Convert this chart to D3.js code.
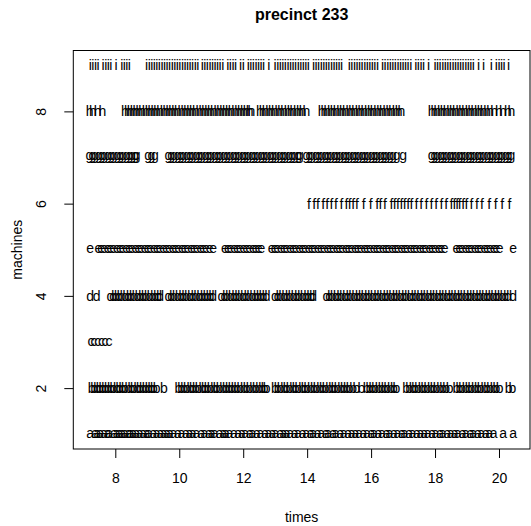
<!DOCTYPE html>
<html><head><meta charset="utf-8">
<script src="https://cdn.jsdelivr.net/npm/d3@7"></script>
<style>body{margin:0;background:#fff}svg{display:block}text{font-family:"Liberation Sans",Arial,Helvetica,sans-serif}</style>
</head><body><svg id="c" width="531" height="526"></svg>
<script>
const title = "precinct 233";
const xLabel = "times";
const yLabel = "machines";
const xTicks = [8, 10, 12, 14, 16, 18, 20];
const yTicks = [2, 4, 6, 8];
const machineLetters = ["a","b","c","d","e","f","g","h","i"];
const timesA = [7.21,7.37,7.44,7.53,7.64,7.75,7.81,7.96,8.04,8.13,8.21,8.3,8.41,8.47,8.56,8.66,8.76,8.87,8.98,9.05,9.19,9.29,9.41,9.51,9.61,9.71,9.82,9.96,10.07,10.21,10.32,10.42,10.54,10.69,10.79,10.93,11.01,11.11,11.26,11.37,11.46,11.57,11.71,11.84,11.96,12.06,12.21,12.29,12.43,12.54,12.69,12.79,12.91,13.01,13.16,13.26,13.36,13.47,13.61,13.71,13.86,13.97,14.11,14.19,14.33,14.44,14.59,14.66,14.81,14.89,15.04,15.14,15.28,15.39,15.51,15.62,15.76,15.87,16.01,16.09,16.23,16.34,16.49,16.57,16.71,16.82,16.96,17.04,17.19,17.29,17.43,17.54,17.66,17.77,17.91,18.01,18.16,18.24,18.39,18.49,18.61,18.71,18.86,18.96,19.11,19.19,19.34,19.44,19.59,19.69,19.83,20.13,20.44];
const timesB = [7.26,7.34,7.43,7.51,7.6,7.68,7.77,7.86,7.94,8.05,8.13,8.22,8.3,8.41,8.5,8.58,8.69,8.77,8.86,8.95,9.04,9.13,9.21,9.29,9.52,9.97,10.06,10.15,10.24,10.35,10.43,10.52,10.61,10.72,10.8,10.89,10.98,11.09,11.17,11.26,11.37,11.46,11.55,11.64,11.73,11.82,11.91,12.02,12.11,12.2,12.31,12.4,12.5,12.59,12.67,12.73,12.99,13.08,13.17,13.28,13.36,13.45,13.56,13.64,13.73,13.84,13.92,14.01,14.12,14.21,14.3,14.41,14.49,14.58,14.69,14.78,14.86,14.95,15.06,15.15,15.24,15.33,15.44,15.54,15.7,15.86,15.95,16.04,16.13,16.24,16.33,16.42,16.51,16.62,16.71,16.79,17.1,17.19,17.3,17.38,17.47,17.58,17.67,17.76,17.87,17.96,18.05,18.16,18.25,18.35,18.46,18.67,18.76,18.85,18.96,19.05,19.14,19.25,19.34,19.43,19.54,19.63,19.72,19.83,19.92,20.02,20.3,20.42];
const timesC = [7.24,7.33,7.45,7.57,7.68,7.8];
const timesD = [7.21,7.42,7.85,7.93,8.02,8.11,8.2,8.31,8.4,8.49,8.58,8.69,8.78,8.87,8.96,9.07,9.16,9.25,9.34,9.4,9.66,9.75,9.84,9.95,10.04,10.13,10.22,10.33,10.42,10.51,10.62,10.71,10.8,10.89,10.98,11.06,11.32,11.41,11.5,11.61,11.7,11.79,11.88,11.99,12.08,12.17,12.28,12.37,12.46,12.55,12.64,12.73,12.99,13.08,13.17,13.28,13.37,13.46,13.57,13.66,13.75,13.86,13.95,14.04,14.13,14.19,14.6,14.69,14.78,14.89,14.98,15.07,15.18,15.27,15.36,15.47,15.56,15.65,15.76,15.85,15.94,16.05,16.14,16.23,16.34,16.43,16.52,16.63,16.72,16.81,16.92,17.01,17.1,17.21,17.3,17.39,17.5,17.59,17.68,17.79,17.88,17.97,18.08,18.17,18.26,18.37,18.46,18.55,18.66,18.75,18.84,18.95,19.04,19.13,19.24,19.33,19.42,19.53,19.62,19.71,19.82,19.91,20.0,20.11,20.2,20.29,20.44];
const timesE = [7.21,7.47,7.56,7.65,7.76,7.85,7.94,8.05,8.14,8.23,8.34,8.43,8.52,8.63,8.72,8.81,8.92,9.01,9.1,9.21,9.3,9.39,9.5,9.59,9.68,9.79,9.88,9.97,10.08,10.17,10.26,10.37,10.46,10.55,10.66,10.75,10.84,10.95,11.06,11.43,11.52,11.61,11.72,11.81,11.9,12.01,12.1,12.19,12.3,12.39,12.48,12.57,12.89,12.98,13.07,13.18,13.27,13.36,13.47,13.56,13.65,13.76,13.85,13.94,14.05,14.14,14.23,14.34,14.43,14.52,14.63,14.72,14.81,14.92,15.01,15.1,15.21,15.3,15.39,15.5,15.59,15.68,15.79,15.88,15.97,16.08,16.17,16.26,16.37,16.46,16.55,16.66,16.75,16.84,16.95,17.04,17.13,17.24,17.33,17.42,17.53,17.62,17.71,17.82,17.91,18.0,18.11,18.2,18.3,18.67,18.76,18.85,18.96,19.05,19.14,19.25,19.34,19.43,19.54,19.63,19.72,19.83,19.92,20.02,20.44];
const timesF = [14.06,14.22,14.34,14.5,14.63,14.76,14.9,15.07,15.23,15.33,15.44,15.56,15.77,15.99,16.19,16.29,16.43,16.64,16.74,16.84,16.95,17.05,17.16,17.26,17.42,17.57,17.73,17.89,18.04,18.2,18.35,18.51,18.61,18.69,18.77,18.88,18.98,19.14,19.31,19.47,19.69,19.9,20.1,20.33];
const timesG = [7.19,7.28,7.37,7.48,7.57,7.66,7.77,7.86,7.95,8.06,8.15,8.24,8.35,8.44,8.53,8.62,8.67,9.03,9.13,9.24,9.66,9.75,9.84,9.95,10.04,10.13,10.24,10.33,10.42,10.53,10.62,10.71,10.82,10.91,11.0,11.11,11.2,11.29,11.4,11.49,11.58,11.69,11.78,11.87,11.98,12.07,12.16,12.27,12.36,12.45,12.56,12.65,12.74,12.85,12.94,13.03,13.14,13.23,13.32,13.43,13.52,13.61,13.72,13.77,13.98,14.07,14.16,14.27,14.36,14.45,14.56,14.65,14.74,14.85,14.94,15.03,15.14,15.23,15.32,15.43,15.52,15.61,15.72,15.81,15.9,16.01,16.1,16.19,16.3,16.39,16.48,16.59,16.68,16.8,17.0,17.89,17.98,18.07,18.18,18.27,18.36,18.47,18.56,18.65,18.76,18.85,18.94,19.05,19.14,19.23,19.34,19.43,19.52,19.63,19.72,19.81,19.92,20.01,20.1,20.21,20.3,20.39];
const timesH = [7.2,7.3,7.45,7.6,8.3,8.39,8.48,8.57,8.66,8.75,8.84,8.95,9.04,9.13,9.22,9.31,9.4,9.51,9.6,9.69,9.78,9.87,9.96,10.07,10.16,10.25,10.34,10.43,10.52,10.63,10.72,10.81,10.9,10.99,11.08,11.19,11.28,11.37,11.46,11.55,11.64,11.75,11.84,11.93,12.02,12.11,12.2,12.26,12.52,12.61,12.7,12.81,12.9,12.99,13.1,13.19,13.28,13.39,13.48,13.57,13.68,13.77,13.86,13.98,14.45,14.54,14.63,14.74,14.83,14.92,15.03,15.12,15.21,15.32,15.41,15.5,15.61,15.7,15.79,15.9,15.99,16.08,16.19,16.28,16.37,16.48,16.57,16.66,16.77,16.86,16.95,17.89,17.98,18.07,18.18,18.27,18.36,18.47,18.56,18.65,18.76,18.85,18.94,19.05,19.14,19.23,19.34,19.43,19.52,19.63,19.72,19.85,20.0,20.12,20.28,20.39];
const timesI = [7.22,7.3,7.38,7.46,7.62,7.7,7.78,7.86,8.02,8.2,8.28,8.36,8.44,8.98,9.06,9.14,9.22,9.3,9.38,9.46,9.54,9.62,9.7,9.78,9.86,9.94,10.02,10.1,10.18,10.26,10.34,10.42,10.5,10.58,10.72,10.8,10.88,10.96,11.04,11.12,11.2,11.28,11.36,11.52,11.6,11.68,11.76,11.92,12.0,12.16,12.24,12.32,12.4,12.48,12.56,12.64,12.8,13.0,13.08,13.16,13.24,13.32,13.4,13.48,13.56,13.64,13.72,13.8,13.88,13.96,14.04,14.2,14.28,14.36,14.44,14.52,14.6,14.68,14.76,14.84,14.92,15.0,15.08,15.32,15.4,15.48,15.56,15.64,15.72,15.8,15.88,15.96,16.04,16.12,16.2,16.36,16.44,16.52,16.6,16.68,16.76,16.84,16.92,17.0,17.08,17.16,17.24,17.4,17.48,17.56,17.64,17.8,18.0,18.08,18.16,18.24,18.32,18.4,18.48,18.56,18.64,18.72,18.8,18.88,18.96,19.04,19.12,19.2,19.36,19.52,19.76,19.92,20.0,20.08,20.16,20.3];
const allTimes = [timesA,timesB,timesC,timesD,timesE,timesF,timesG,timesH,timesI];

const points = [];
allTimes.forEach((arr,k)=>arr.forEach(t=>points.push({t, m:k+1, ch:machineLetters[k]})));

// ink-centering offsets (em) for each glyph class
const baseShift = {a:0.26,b:0.36,c:0.26,d:0.36,e:0.26,f:0.365,g:0.155,h:0.36,i:0.36};

const svg = d3.select("#c");
const L=73.3, R=530, T=50.5, B=449;
const x = d3.scaleLinear().domain([6.686,20.97]).range([L,R]);
const y = d3.scaleLinear().domain([0.68,9.32]).range([B,T]);
const fs = 14;

svg.append("g").attr("transform",`translate(0,${B})`)
  .call(d3.axisBottom(x).tickValues(xTicks).tickSize(9).tickPadding(15).tickFormat(d3.format("d")))
  .call(g=>{g.select(".domain").remove();g.selectAll("text").attr("font-size",fs).attr("font-family",null).attr("fill","#000");g.selectAll("line").attr("stroke","#000");});
svg.append("g").attr("transform",`translate(${L},0)`)
  .call(d3.axisLeft(y).tickValues(yTicks).tickSize(9).tickFormat(d3.format("d")))
  .call(g=>{g.select(".domain").remove();g.selectAll("line").attr("stroke","#000");
    g.selectAll("text").attr("font-size",fs).attr("font-family",null).attr("fill","#000")
     .attr("x",null).attr("dy",null).attr("text-anchor","middle")
     .attr("transform","translate(-27,0) rotate(-90)");});

svg.append("rect").attr("x",L).attr("y",T).attr("width",R-L).attr("height",B-T)
  .attr("fill","none").attr("stroke","#000").attr("stroke-width",1);

svg.append("g").selectAll("text").data(points).join("text")
  .attr("x",d=>x(d.t)).attr("y",d=>y(d.m)+baseShift[d.ch]*fs)
  .attr("text-anchor","middle").attr("font-size",fs).text(d=>d.ch);

svg.append("text").attr("x",(L+R)/2).attr("y",20).attr("text-anchor","middle")
  .attr("font-weight","bold").attr("font-size",16).text(title);
svg.append("text").attr("x",(L+R)/2).attr("y",522).attr("text-anchor","middle")
  .attr("font-size",fs).text(xLabel);
svg.append("text").attr("transform",`translate(22,${(T+B)/2}) rotate(-90)`).attr("text-anchor","middle")
  .attr("font-size",fs).text(yLabel);
</script></body></html>
